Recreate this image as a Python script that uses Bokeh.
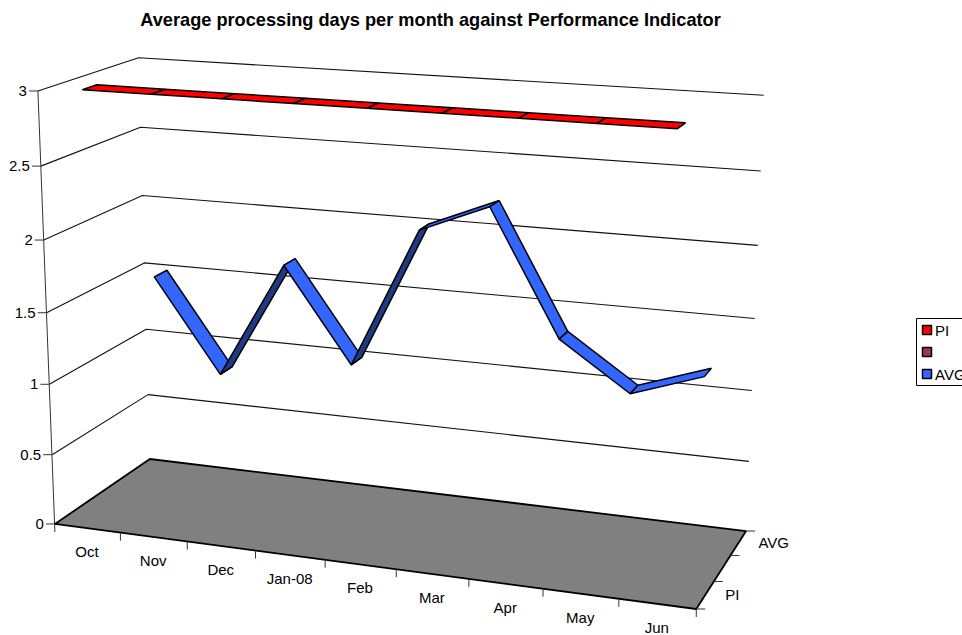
from bokeh.core.properties import value
from bokeh.embed import file_html
from bokeh.models import ColumnDataSource, Range1d
from bokeh.plotting import figure
from bokeh.resources import INLINE
import numpy as np

months = ["Oct", "Nov", "Dec", "Jan-08", "Feb", "Mar", "Apr", "May", "Jun"]
pi_values = [3, 3, 3, 3, 3, 3, 3, 3, 3]
avg_values = [1.5, 0.83, 1.67, 1.0, 2.0, 2.2, 1.33, 1.0, 1.17]
value_ticks = [0, 0.5, 1, 1.5, 2, 2.5, 3]
value_labels = ["0", "0.5", "1", "1.5", "2", "2.5", "3"]
depth_labels = ["PI", "", "AVG"]
legend_labels = ["PI", "", "AVG"]
legend_colors = ["#FF0000", "#993366", "#3366FF"]

# Camera calibration: cube position (x, value, z) to page pixel
front_left = [(37, 91), (40, 165.7), (43.3, 239.3), (46.5, 312), (49.5, 383.5), (51.7, 454.3), (54, 524)]
back_left = [(138.3, 57.3), (140, 126.7), (141.7, 195.3), (143.7, 262.3), (146, 328), (147.5, 394), (149.3, 458.7)]
back_right = [(763, 95), (761, 170), (757, 245), (754, 318), (751, 390), (749, 461), (745, 531)]
levels = [3, 2.5, 2, 1.5, 1, 0.5, 0]
rows, rhs = [], []


def anchor(x, v, z, u, w):
    y = v / 3
    rows.append([x, y, z, 1, 0, 0, 0, 0, -u * x, -u * y, -u * z])
    rhs.append(u)
    rows.append([0, 0, 0, 0, x, y, z, 1, -w * x, -w * y, -w * z])
    rhs.append(w)


for lv, a, b, c in zip(levels, front_left, back_left, back_right):
    anchor(0, lv, 0, *a)
    anchor(0, lv, 1, *b)
    anchor(1, lv, 1, *c)
anchor(1, 0, 0, 696, 608)
P = np.append(np.linalg.lstsq(np.array(rows), np.array(rhs), rcond=None)[0], 1).reshape(3, 4)


def project(x, v, z):
    h = P @ np.array([x, v / 3, z, 1])
    return h[0] / h[2], h[1] / h[2]


W, H = 962, 635
p = figure(width=W, height=H, x_range=Range1d(0, W), y_range=Range1d(H, 0),
           output_backend="svg", toolbar_location=None, min_border=0, outline_line_color=None)
p.axis.visible = False
p.grid.visible = False
font = value("Liberation Sans")

# Walls
xs, ys = [], []
for lv in value_ticks[1:]:
    a, b, c = project(0, lv, 0), project(0, lv, 1), project(1, lv, 1)
    xs.append([a[0], b[0], c[0]])
    ys.append([a[1], b[1], c[1]])
p.multi_line(xs, ys, line_color="#111111", line_width=1.1)

# Value axis with ticks and labels
a0, a3 = project(0, 0, 0), project(0, 3, 0)
p.line([a3[0], a0[0]], [a3[1], a0[1] + 8], line_color="#333333", line_width=1)
tx, ty = [], []
for lv, lab in zip(value_ticks, value_labels):
    q = project(0, lv, 0)
    tx.append([q[0] - 9, q[0]])
    ty.append([q[1], q[1]])
    p.text([q[0] - 11], [q[1]], text=[lab], text_font=font, text_font_size="15px",
           text_align="right", text_baseline="middle", text_color="#000000")

# Floor
corners = [project(0, 0, 0), project(1, 0, 0), project(1, 0, 1), project(0, 0, 1)]
p.patch([c[0] for c in corners], [c[1] for c in corners], fill_color="#808080",
        line_color="#000000", line_width=1.8)

# Category ticks and labels
n = len(months)
for i in range(1, n + 1):
    q = project(i / n, 0, 0)
    tx.append([q[0], q[0]])
    ty.append([q[1], q[1] + 8])
for i, m in enumerate(months):
    q = project((i + 0.5) / n, 0, 0)
    p.text([q[0] - 0.5], [q[1] + 23.5], text=[m], text_font=font, text_font_size="15px",
           text_align="center", text_baseline="middle", text_color="#000000")

# Depth ticks and labels
for k in range(4):
    q = project(1, 0, k / 3)
    tx.append([q[0], q[0] + 9])
    ty.append([q[1], q[1]])
for k, lab in enumerate(depth_labels):
    q = project(1, 0, (k + 0.5) / 3)
    p.text([q[0] + 20], [q[1] - 1], text=[lab], text_font=font, text_font_size="15px",
           text_align="left", text_baseline="middle", text_color="#000000")
p.multi_line(tx, ty, line_color="#333333", line_width=1)


# Ribbons, one quad between each pair of months; faces turned away are shaded darker
def ribbon(vals, slot, color, dark, z_half=0.07):
    zc = (slot + 0.5) / 3
    qx, qy, qc = [], [], []
    for i in range(len(vals) - 1):
        x1, x2 = (i + 0.5) / n, (i + 1.5) / n
        pts = [project(x1, vals[i], zc - z_half), project(x2, vals[i + 1], zc - z_half),
               project(x2, vals[i + 1], zc + z_half), project(x1, vals[i], zc + z_half)]
        area = sum(pts[j][0] * pts[(j + 1) % 4][1] - pts[(j + 1) % 4][0] * pts[j][1] for j in range(4))
        qx.append([c[0] for c in pts])
        qy.append([c[1] for c in pts])
        qc.append(color if area < 0 else dark)
    src = ColumnDataSource(dict(xs=qx, ys=qy, c=qc))
    p.patches("xs", "ys", fill_color="c", line_color="#000000", line_width=1.5, source=src)


ribbon(avg_values, 2, "#3366FF", "#1F3A85")
ribbon(pi_values, 0, "#FF0000", "#800000")

# Title
p.text([430], [19], text=["Average processing days per month against Performance Indicator"],
       text_font=font, text_font_size="18.2px", text_font_style="bold", text_align="center",
       text_baseline="middle", text_color="#000000")

# Legend
p.patch([916, 980, 980, 916], [318, 318, 385, 385], fill_color="#FFFFFF", line_color="#000000", line_width=1)
for i, (lab, col) in enumerate(zip(legend_labels, legend_colors)):
    yc = 329.5 + i * 22
    p.patch([922, 931, 931, 922], [yc - 4.5, yc - 4.5, yc + 4.5, yc + 4.5], fill_color=col,
            line_color="#000000", line_width=1.5)
    p.text([934.5], [yc], text=[lab], text_font=font, text_font_size="15px", text_align="left",
           text_baseline="middle", text_color="#000000")

open("out.html", "w").write(file_html(p, INLINE))
